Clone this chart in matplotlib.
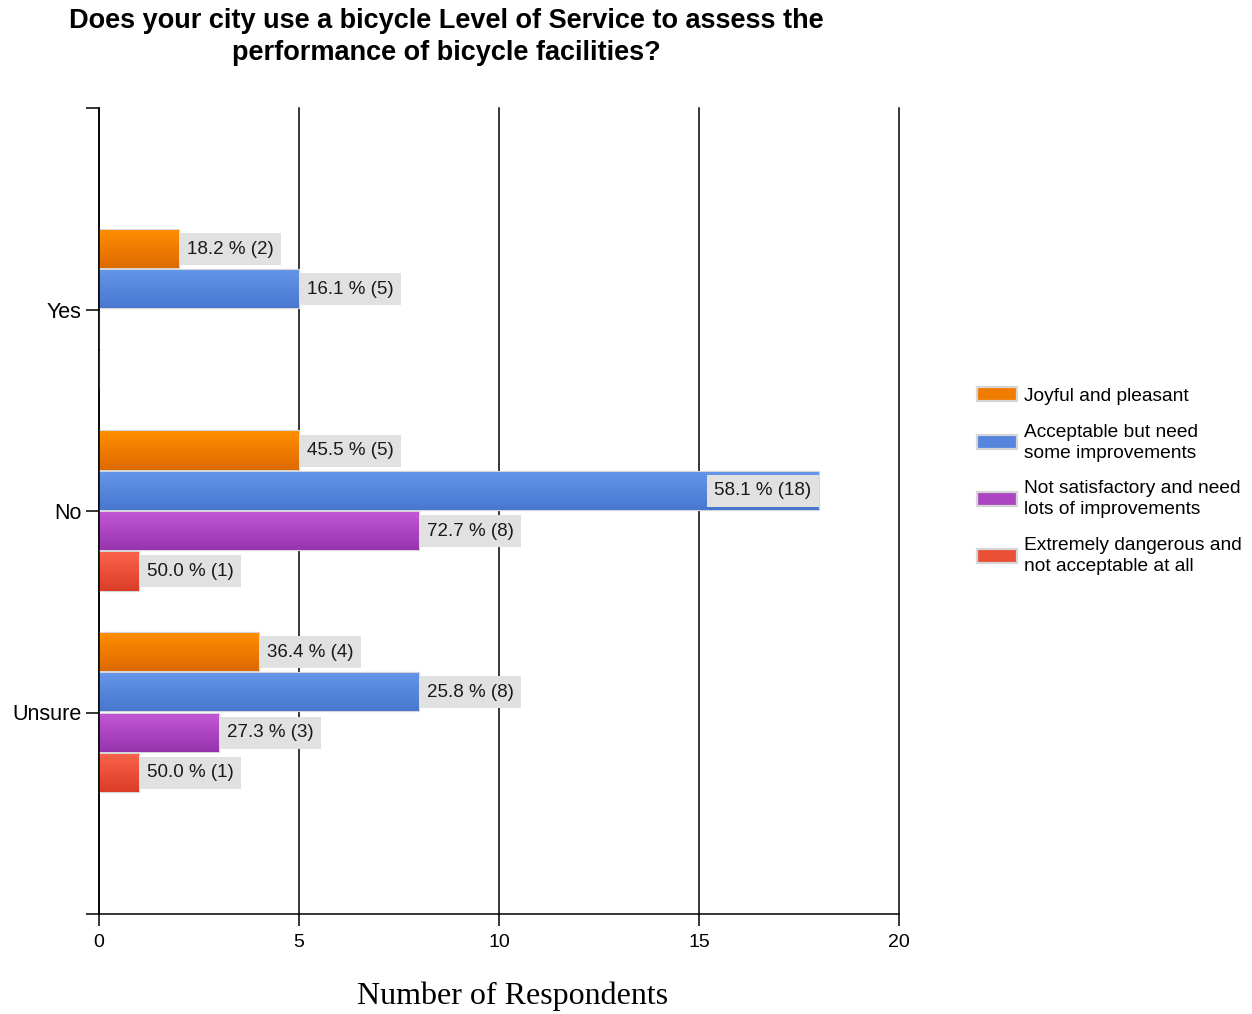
import numpy as np
import matplotlib
matplotlib.use("Agg")
import matplotlib.pyplot as plt
from matplotlib.colors import LinearSegmentedColormap
from matplotlib.patches import Patch

plt.rcParams['font.family'] = ['Liberation Sans', 'DejaVu Sans']

# data
groups = ['Yes', 'No', 'Unsure']
series = ['Joyful and pleasant',
          'Acceptable but need\nsome improvements',
          'Not satisfactory and need\nlots of improvements',
          'Extremely dangerous and\nnot acceptable at all']
counts = [[2, 5, 4],      # Joyful
          [5, 18, 8],     # Acceptable
          [0, 8, 3],      # Not satisfactory
          [0, 1, 1]]      # Extremely dangerous
percents = [[18.2, 45.5, 36.4],
            [16.1, 58.1, 25.8],
            [0.0, 72.7, 27.3],
            [0.0, 50.0, 50.0]]

# gradient colours (top, bottom) and legend colour
grad = [('#ff8e00', '#dd6a00'),
        ('#6596ea', '#4877cf'),
        ('#c257d6', '#9834ae'),
        ('#fa634a', '#da3e26')]
solid = ['#f07c00', '#5585dc', '#ad45c2', '#ea5035']

fig = plt.figure(figsize=(12.52, 10.14), dpi=100)
ax = fig.add_axes([99/1252, 100/1014, 800/1252, 806/1014])

pos = np.arange(1, len(groups) + 1)
offsets = [-0.3, -0.1, 0.1, 0.3]
bh = 0.19

for i in range(len(series)):
    bars = ax.barh(pos + offsets[i], counts[i], height=bh, color=solid[i],
                   edgecolor='#d6d6d6', linewidth=1.6, zorder=2)
    cmap = LinearSegmentedColormap.from_list('g%d' % i, [grad[i][0], grad[i][1]])
    for j, b in enumerate(bars):
        v = counts[i][j]
        if v == 0:
            continue
        x0, y0 = b.get_x(), b.get_y()
        w, h = b.get_width(), b.get_height()
        im = ax.imshow(np.linspace(0, 1, 50).reshape(-1, 1), cmap=cmap,
                       extent=[x0, x0 + w, y0 + h, y0], aspect='auto',
                       zorder=2.1, interpolation='bicubic')
        im.set_clip_path(b)
        lab = '%.1f %% (%d)' % (percents[i][j], v)
        yc = y0 + h / 2
        if v >= 17:
            ax.annotate(lab, (x0 + w, yc), xytext=(-5.5, 0), textcoords='offset points',
                        ha='right', va='center', fontsize=13.5, color='#1a1a1a', zorder=4,
                        bbox=dict(boxstyle='square,pad=0.4', fc='#e1e1e1', ec='none'))
        else:
            ax.annotate(lab, (x0 + w, yc), xytext=(5.5, 0), textcoords='offset points',
                        ha='left', va='center', fontsize=13.5, color='#1a1a1a', zorder=4,
                        bbox=dict(boxstyle='square,pad=0.4', fc='#e1e1e1', ec='none'))

ax.set_xlim(0, 20)
ax.set_ylim(4, 0)
ax.set_xticks([0, 5, 10, 15, 20])
ax.set_yticks([0, 1, 2, 3, 4])
ax.set_yticklabels([''] + groups + [''])
ax.tick_params(axis='x', length=8.5, width=1.1, labelsize=14, pad=6, colors='black')
ax.tick_params(axis='y', length=9.5, width=1.1, labelsize=15.5, pad=3)
ax.grid(axis='x', color='black', linewidth=1.1)
for gl in ax.get_xgridlines():
    gl.set_clip_on(False)
ax.set_axisbelow(True)
for s in ['top', 'right']:
    ax.spines[s].set_visible(False)
for s in ['left', 'bottom']:
    ax.spines[s].set_linewidth(1.1)

fig.text(513/1252, 1 - 996/1014, 'Number of Respondents', ha='center', va='center',
         fontsize=23, family='Liberation Serif')

fig.text(446/1252, 1 - 37/1014,
         'Does your city use a bicycle Level of Service to assess the\nperformance of bicycle facilities?',
         ha='center', va='center', fontsize=19.5, fontweight='bold', linespacing=1.32)

handles = [Patch(facecolor=solid[i], edgecolor='#d6d6d6', linewidth=1.6) for i in range(len(series))]
leg = fig.legend(handles, series, loc='center left', bbox_to_anchor=(977/1252, 1 - 481/1014),
                 frameon=False, fontsize=13.8, handlelength=2.1, handleheight=0.75,
                 handletextpad=0.37, labelspacing=0.98, borderpad=0, borderaxespad=0)
for t in leg.get_texts():
    t.set_linespacing(1.3)

fig.savefig('out.png', dpi=100)
